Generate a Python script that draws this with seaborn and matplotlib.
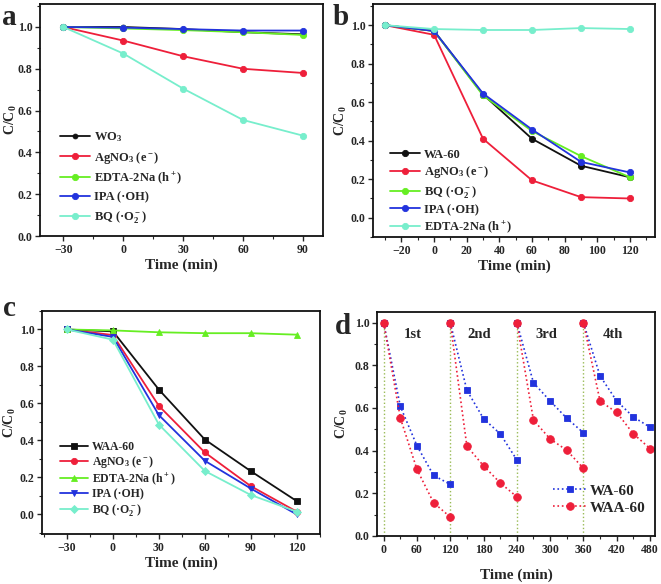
import numpy as np
import pandas as pd
import seaborn as sns
import matplotlib.pyplot as plt
from matplotlib.ticker import MultipleLocator, AutoMinorLocator

# panel a data
time_a = [-30, 0, 30, 60, 90]
a_wo3 = [1.0, 1.0, 0.99, 0.975, 0.965]
a_agno3 = [1.0, 0.935, 0.86, 0.80, 0.78]
a_edta = [1.0, 0.993, 0.985, 0.975, 0.962]
a_ipa = [1.0, 0.997, 0.99, 0.983, 0.983]
a_bq = [1.0, 0.873, 0.705, 0.555, 0.48]

# panel b data
time_b = [-30, 0, 30, 60, 90, 120]
b_wa60 = [1.0, 0.97, 0.64, 0.41, 0.27, 0.21]
b_agno3 = [1.0, 0.95, 0.41, 0.194, 0.107, 0.10]
b_bq = [1.0, 0.97, 0.635, 0.45, 0.32, 0.21]
b_ipa = [1.0, 0.97, 0.645, 0.458, 0.29, 0.235]
b_edta = [1.0, 0.98, 0.975, 0.975, 0.985, 0.98]

# panel c data
time_c = [-30, 0, 30, 60, 90, 120]
c_waa60 = [1.0, 0.99, 0.675, 0.405, 0.234, 0.072]
c_agno3 = [1.0, 0.97, 0.587, 0.335, 0.153, 0.015]
c_edta = [1.0, 0.995, 0.985, 0.98, 0.98, 0.972]
c_ipa = [1.0, 0.96, 0.537, 0.29, 0.14, 0.0]
c_bq = [1.0, 0.945, 0.486, 0.235, 0.105, 0.015]

# panel d data (four cycles)
cycle_starts = [0, 120, 240, 360]
cycle_offsets = [0, 30, 60, 90, 120]
d_wa60 = [[1.0, 0.608, 0.423, 0.284, 0.242],
          [1.0, 0.683, 0.55, 0.479, 0.357],
          [1.0, 0.718, 0.633, 0.552, 0.484],
          [1.0, 0.75, 0.633, 0.558, 0.51]]
d_waa60 = [[1.0, 0.554, 0.312, 0.156, 0.089],
           [1.0, 0.421, 0.329, 0.249, 0.184],
           [1.0, 0.543, 0.455, 0.402, 0.317],
           [1.0, 0.632, 0.579, 0.479, 0.41]]
cycle_names = ["1st", "2nd", "3rd", "4th"]

BLACK = "#111111"
RED = "#ee1f3a"
GREEN = "#66ee22"
BLUE = "#2233dd"
CYAN = "#77eecc"

sns.set_style("ticks")
plt.rcParams["font.family"] = ["Liberation Serif", "DejaVu Serif"]
plt.rcParams["font.weight"] = "bold"
plt.rcParams["axes.labelweight"] = "bold"
plt.rcParams["mathtext.fontset"] = "custom"
plt.rcParams["mathtext.rm"] = "Liberation Serif:bold"
plt.rcParams["mathtext.it"] = "Liberation Serif:bold"
plt.rcParams["mathtext.bf"] = "Liberation Serif:bold"
plt.rcParams["mathtext.default"] = "rm"

fig = plt.figure(figsize=(6.61, 5.84), dpi=100)
W, H = 661, 584


def add_ax(l, t, r, b):
    return fig.add_axes([l / W, 1 - b / H, (r - l) / W, (b - t) / H])


ax_a = add_ax(40, 4, 323, 236)
ax_b = add_ax(373, 4, 655, 237)
ax_c = add_ax(42, 311, 320, 534)
ax_d = add_ax(377, 312, 655, 536)


def style(ax, ylab_x):
    for s in ax.spines.values():
        s.set_linewidth(1.3)
        s.set_color("#111111")
    ax.tick_params(which="major", direction="out", length=3.5, width=1.0,
                   labelsize=8.5, pad=2)
    ax.tick_params(which="minor", direction="out", length=2, width=0.8)
    ax.yaxis.set_minor_locator(AutoMinorLocator(2))
    ax.xaxis.set_minor_locator(AutoMinorLocator(2))
    for lab in ax.get_xticklabels() + ax.get_yticklabels():
        lab.set_fontweight("bold")
    ax.set_xlabel("Time (min)", fontsize=11, labelpad=2)
    ax.set_ylabel("C/C$_0$", fontsize=10)
    ax.yaxis.set_label_coords(ylab_x, 0.5)


def line(ax, x, y, color, label, marker, ms=4.5, ls="-", lw=1.3):
    df = pd.DataFrame({"t": x, "c": y})
    sns.lineplot(data=df, x="t", y="c", ax=ax, color=color, label=label,
                 marker=marker, markersize=ms, markeredgewidth=0.6,
                 markeredgecolor=color, linestyle=ls, linewidth=lw,
                 sort=False)


lab_e = "AgNO$_3$ (e$^-$)"
lab_h = "EDTA-2Na (h$^+$)"
lab_oh = "IPA (·OH)"
lab_o2 = "BQ (·O$_2^-$)"

# a
line(ax_a, time_a, a_wo3, BLACK, "WO$_3$", "o", ms=3.5)
line(ax_a, time_a, a_agno3, RED, lab_e, "o")
line(ax_a, time_a, a_edta, GREEN, lab_h, "o")
line(ax_a, time_a, a_ipa, BLUE, lab_oh, "o")
line(ax_a, time_a, a_bq, CYAN, lab_o2, "o")
ax_a.set_xlim(-41.7, 100)
ax_a.set_ylim(0, 1.11)
ax_a.set_xticks([-30, 0, 30, 60, 90])
ax_a.yaxis.set_major_locator(MultipleLocator(0.2))
style(ax_a, -0.074)
ax_a.legend(loc="lower left", bbox_to_anchor=(0.04, 0.01), frameon=False,
            fontsize=9, handlelength=2.4, labelspacing=0.42,
            handletextpad=0.3, borderaxespad=0.3)

# b
line(ax_b, time_b, b_wa60, BLACK, "WA-60", "o")
line(ax_b, time_b, b_agno3, RED, lab_e, "o")
line(ax_b, time_b, b_bq, GREEN, lab_o2, "o")
line(ax_b, time_b, b_ipa, BLUE, lab_oh, "o")
line(ax_b, time_b, b_edta, CYAN, lab_h, "o")
ax_b.set_xlim(-37.4, 135.3)
ax_b.set_ylim(-0.1, 1.11)
ax_b.set_xticks(np.arange(-20, 121, 20))
ax_b.yaxis.set_major_locator(MultipleLocator(0.2))
style(ax_b, -0.085)
ax_b.legend(loc="lower left", bbox_to_anchor=(0.03, -0.03), frameon=False,
            fontsize=9, handlelength=2.4, labelspacing=0.3,
            handletextpad=0.3, borderaxespad=0.3)

# c
line(ax_c, time_c, c_waa60, BLACK, "WAA-60", "s", ms=4)
line(ax_c, time_c, c_agno3, RED, lab_e, "o")
line(ax_c, time_c, c_edta, GREEN, lab_h, "^")
line(ax_c, time_c, c_ipa, BLUE, lab_oh, "v")
line(ax_c, time_c, c_bq, CYAN, lab_o2, "D", ms=4)
ax_c.set_xlim(-46.3, 135.2)
ax_c.set_ylim(-0.106, 1.10)
ax_c.set_xticks([-30, 0, 30, 60, 90, 120])
ax_c.yaxis.set_major_locator(MultipleLocator(0.2))
style(ax_c, -0.085)
ax_c.legend(loc="lower left", bbox_to_anchor=(0.035, 0.035), frameon=False,
            fontsize=8.5, handlelength=2.4, labelspacing=0.12,
            handletextpad=0.3, borderaxespad=0.3)

# d
for k, start in enumerate(cycle_starts):
    ax_d.plot([start, start], [0, 1.0], color="#99bb55", linestyle=":",
              linewidth=1.0, zorder=1)
    t = [start + o for o in cycle_offsets]
    line(ax_d, t, d_wa60[k], BLUE, "WA-60" if k == 0 else None, "s",
         ms=5, ls=":", lw=1.2)
    line(ax_d, t, d_waa60[k], RED, "WAA-60" if k == 0 else None, "o",
         ms=5.5, ls=":", lw=1.2)
    ax_d.text(start + 53, 0.944, cycle_names[k], fontsize=10.5,
              fontweight="bold", ha="center", va="center")
ax_d.set_xlim(-12, 489)
ax_d.set_ylim(0, 1.05)
ax_d.set_xticks(np.arange(0, 481, 60))
ax_d.yaxis.set_major_locator(MultipleLocator(0.2))
style(ax_d, -0.097)
ax_d.xaxis.labelpad = 9
ax_d.legend(loc="lower right", bbox_to_anchor=(1.0, 0.055), frameon=False,
            fontsize=11, handlelength=2.2, labelspacing=0.2,
            handletextpad=0.2, borderaxespad=0.2)

# panel letters
for letter, x, y in [("a", 2, 25), ("b", 333, 25), ("c", 3, 316), ("d", 335, 334)]:
    fig.text(x / W, 1 - y / H, letter, fontsize=21, fontweight="bold",
             va="baseline", ha="left")

fig.savefig("out.png", dpi=100)
